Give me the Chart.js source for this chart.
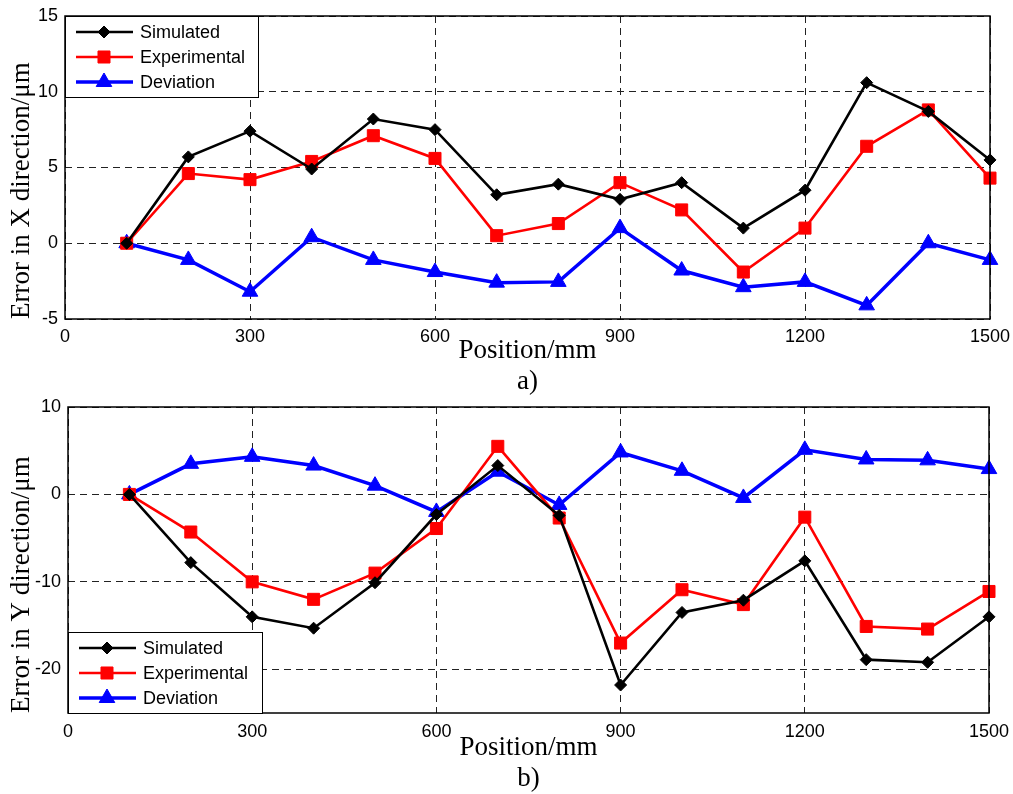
<!DOCTYPE html>
<html>
<head>
<meta charset="utf-8">
<script src="https://cdn.jsdelivr.net/npm/chart.js@4.4.0/dist/chart.umd.min.js"></script>
<style>
  body { margin: 0; background: #fff; }
  canvas { display: block; }
</style>
</head>
<body>
<canvas id="chartX" width="1013" height="397"></canvas>
<canvas id="chartY" width="1013" height="397"></canvas>
<script>
// data
const positions = [100, 200, 300, 400, 500, 600, 700, 800, 900, 1000, 1100, 1200, 1300, 1400, 1500];

const xSimulated    = [0, 5.7, 7.4, 4.9, 8.2, 7.5, 3.2, 3.9, 2.9, 4.0, 1.0, 3.5, 10.6, 8.7, 5.5];
const xExperimental = [0, 4.6, 4.2, 5.4, 7.1, 5.6, 0.5, 1.3, 4.0, 2.2, -1.9, 1.0, 6.4, 8.8, 4.3];
const xDeviation    = [0, -1.1, -3.2, 0.4, -1.1, -1.9, -2.6, -2.55, 1.0, -1.8, -2.9, -2.55, -4.1, 0, -1.1];

const ySimulated    = [0, -7.8, -14.0, -15.3, -10.1, -2.3, 3.3, -2.4, -21.8, -13.5, -12.1, -7.6, -18.9, -19.2, -14.0];
const yExperimental = [0, -4.3, -10.0, -12.0, -9.0, -3.9, 5.5, -2.7, -17.0, -10.9, -12.6, -2.6, -15.1, -15.4, -11.1];
const yDeviation    = [0, 3.5, 4.3, 3.3, 1.0, -2.0, 2.6, -1.2, 4.8, 2.7, -0.4, 5.1, 4.0, 3.9, 2.9];

const seriesNames = ['Simulated', 'Experimental', 'Deviation'];
const xTickValues = [0, 300, 600, 900, 1200, 1500];
const yTicksX = [-5, 0, 5, 10, 15];
const yTicksY = [-20, -10, 0, 10];

const sansFont = "'Liberation Sans', Arial, sans-serif";
const serifFont = "'Liberation Serif', 'Times New Roman', serif";

function makePoints(values) {
  return positions.map((p, i) => ({x: p, y: values[i]}));
}

function drawMarker(ctx, style, x, y, r, color) {
  ctx.save();
  ctx.fillStyle = color;
  ctx.strokeStyle = color;
  ctx.lineWidth = 1;
  ctx.setLineDash([]);
  ctx.beginPath();
  if (style === 'rectRot') {
    ctx.moveTo(x - r, y); ctx.lineTo(x, y - r); ctx.lineTo(x + r, y); ctx.lineTo(x, y + r);
  } else if (style === 'rect') {
    let s = r * Math.SQRT1_2;
    ctx.rect(x - s, y - s, 2 * s, 2 * s);
  } else {
    ctx.moveTo(x, y - r);
    ctx.lineTo(x + r * 0.866, y + r / 2);
    ctx.lineTo(x - r * 0.866, y + r / 2);
  }
  ctx.closePath();
  ctx.fill();
  ctx.stroke();
  ctx.restore();
}

// frame around the axes and a matlab-like legend box inside the plot
const boxPlugin = {
  id: 'boxLegend',
  afterDatasetsDraw(chart, args, opts) {
    const ctx = chart.ctx;
    const a = chart.chartArea;
    ctx.save();
    ctx.setLineDash([]);
    ctx.strokeStyle = '#000';
    ctx.lineWidth = 1.5;
    ctx.strokeRect(a.left, a.top, a.right - a.left, a.bottom - a.top);

    let bx = a.left + opts.dx;
    let by = opts.corner === 'top' ? a.top + opts.dy : a.bottom - opts.h + opts.dy;
    ctx.fillStyle = '#fff';
    ctx.fillRect(bx, by, opts.w, opts.h);
    ctx.lineWidth = 1;
    ctx.strokeRect(bx + 0.5, by + 0.5, opts.w, opts.h);

    ctx.font = '18px ' + sansFont;
    ctx.textBaseline = 'middle';
    ctx.textAlign = 'left';
    chart.data.datasets.forEach((ds, i) => {
      let ry = by + 16 + i * 25;
      ctx.strokeStyle = ds.borderColor;
      ctx.lineWidth = ds.borderWidth;
      ctx.beginPath();
      ctx.moveTo(bx + 11, ry);
      ctx.lineTo(bx + 68, ry);
      ctx.stroke();
      drawMarker(ctx, ds.pointStyle, bx + 39, ry, ds.pointRadius, ds.borderColor);
      ctx.fillStyle = '#000';
      ctx.fillText(ds.label, bx + 75, ry + 1);
    });
    ctx.restore();
  }
};

function buildChart(canvasId, cfg) {
  const ctx = document.getElementById(canvasId).getContext('2d');
  return new Chart(ctx, {
    type: 'line',
    data: {
      datasets: [
        {
          label: seriesNames[0], data: makePoints(cfg.sim),
          borderColor: '#000', backgroundColor: '#000', borderWidth: 2.6,
          pointStyle: 'rectRot', pointRadius: 6, pointBorderWidth: 1
        },
        {
          label: seriesNames[1], data: makePoints(cfg.exp),
          borderColor: '#ff0000', backgroundColor: '#ff0000', borderWidth: 2.6,
          pointStyle: 'rect', pointRadius: 8.5, pointBorderWidth: 1
        },
        {
          label: seriesNames[2], data: makePoints(cfg.dev),
          borderColor: '#0000ff', backgroundColor: '#0000ff', borderWidth: 3.5,
          pointStyle: 'triangle', pointRadius: 9, pointBorderWidth: 1
        }
      ]
    },
    options: {
      responsive: false,
      animation: false,
      events: [],
      clip: false,
      elements: { line: { tension: 0 } },
      layout: { padding: { top: cfg.padTop, right: cfg.padRight, left: 0, bottom: 0 } },
      scales: {
        x: {
          type: 'linear', min: 0, max: 1500,
          afterBuildTicks: (s) => { s.ticks = xTickValues.map(v => ({value: v})); },
          afterFit: (s) => {
            s.height = cfg.xHeight;
            s.paddingLeft = 0;
            s.paddingRight = 0;
          },
          grid: { color: '#222', lineWidth: 1, drawTicks: false },
          border: { display: false, dash: [7, 5] },
          ticks: {
            color: '#000', padding: cfg.xTickPad, maxRotation: 0,
            font: { family: sansFont, size: 18 },
            callback: (v) => String(v)
          },
          title: {
            display: true, text: ['Position/mm', cfg.caption], color: '#000',
            padding: { top: 0, bottom: 0 },
            font: { family: serifFont, size: 27, lineHeight: 1.15 }
          }
        },
        y: {
          type: 'linear', min: cfg.yMin, max: cfg.yMax,
          afterBuildTicks: (s) => { s.ticks = cfg.yTicks.map(v => ({value: v})); },
          afterFit: (s) => {
            s.width = cfg.yWidth;
            s.paddingTop = 0;
            s.paddingBottom = 0;
          },
          grid: { color: '#222', lineWidth: 1, drawTicks: false },
          border: { display: false, dash: [7, 5] },
          ticks: {
            color: '#000', padding: 7, font: { family: sansFont, size: 18 },
            callback: (v) => String(v)
          },
          title: {
            display: true, text: cfg.yTitle, color: '#000', align: 'start',
            padding: { top: 8, bottom: 0 },
            font: { family: serifFont, size: 27, lineHeight: 1 }
          }
        }
      },
      plugins: {
        legend: { display: false },
        tooltip: { enabled: false },
        boxLegend: cfg.legend
      }
    },
    plugins: [boxPlugin]
  });
}

buildChart('chartX', {
  sim: xSimulated, exp: xExperimental, dev: xDeviation,
  yMin: -5, yMax: 15, yTicks: yTicksX,
  yTitle: 'Error in X direction/\u03bcm', caption: 'a)',
  padTop: 16, padRight: 23, yWidth: 65, xHeight: 78, xTickPad: 7,
  legend: { corner: 'top', dx: 0, dy: 0, w: 193, h: 81 }
});

buildChart('chartY', {
  sim: ySimulated, exp: yExperimental, dev: yDeviation,
  yMin: -25, yMax: 10, yTicks: yTicksY,
  yTitle: 'Error in Y direction/\u03bcm', caption: 'b)',
  padTop: 10, padRight: 24, yWidth: 68, xHeight: 81, xTickPad: 8,
  legend: { corner: 'bottom', dx: 0, dy: 0, w: 194, h: 81 }
});
</script>
</body>
</html>
